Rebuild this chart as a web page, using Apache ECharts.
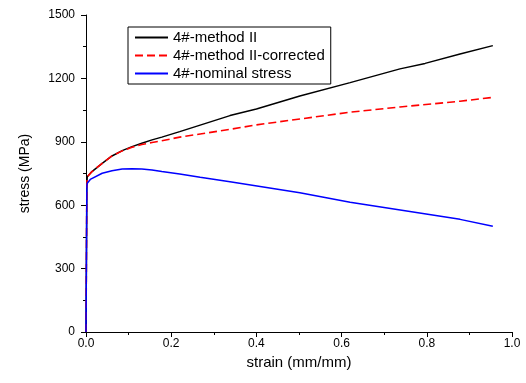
<!DOCTYPE html>
<html>
<head>
<meta charset="utf-8">
<script src="https://cdn.jsdelivr.net/npm/echarts@6/dist/echarts.min.js"></script>
<style>
  html, body { margin: 0; padding: 0; background: #fff; }
  #chart { width: 526px; height: 383px; }
</style>
</head>
<body>
<div id="chart"></div>
<script>
// strain (mm/mm), stress (MPa)
const methodII = [
  [0, 0], [0.002, 700], [0.003, 735], [0.014, 759], [0.038, 798], [0.061, 833],
  [0.085, 858], [0.108, 877], [0.131, 893], [0.155, 909], [0.178, 922],
  [0.22, 948], [0.268, 979], [0.338, 1024], [0.4, 1055], [0.502, 1117],
  [0.62, 1180], [0.737, 1245], [0.796, 1271], [0.878, 1315], [0.955, 1355]
];
const methodIICorrected = [
  [0, 0], [0.002, 700], [0.003, 735], [0.014, 759], [0.038, 798], [0.061, 833],
  [0.085, 857], [0.108, 874], [0.131, 887], [0.155, 897], [0.178, 905],
  [0.22, 922], [0.268, 937], [0.338, 959], [0.4, 980], [0.502, 1008],
  [0.62, 1040], [0.737, 1065], [0.878, 1092], [0.955, 1110]
];
const nominalStress = [
  [0, 0], [0.002, 690], [0.003, 704], [0.01, 722], [0.038, 751], [0.061, 763],
  [0.085, 771], [0.108, 772], [0.131, 771], [0.155, 767], [0.178, 759],
  [0.22, 748], [0.268, 732], [0.338, 711], [0.502, 659], [0.62, 614],
  [0.878, 533], [0.955, 500]
];
const seriesNames = ['4#-method II', '4#-method II-corrected', '4#-nominal stress'];

const font = 'Liberation Sans, Arial, sans-serif';
let myChart = echarts.init(document.getElementById('chart'));
myChart.setOption({
  animation: false,
  grid: { left: 86, right: 14, top: 15, bottom: 51 },
  legend: {
    orient: 'vertical',
    left: 128, top: 27,
    padding: [2, 6, 2, 6],
    itemGap: 1,
    itemWidth: 33,
    itemHeight: 14,
    borderColor: '#000', borderWidth: 1,
    itemStyle: { opacity: 0 },
    textStyle: { fontFamily: font, fontSize: 15, lineHeight: 17, color: '#000' },
    data: seriesNames
  },
  xAxis: {
    type: 'value', min: 0, max: 1, interval: 0.2,
    name: 'strain (mm/mm)', nameLocation: 'middle', nameGap: 22,
    nameTextStyle: { fontFamily: font, fontSize: 15, color: '#000' },
    axisLine: { lineStyle: { color: '#000', width: 1 } },
    axisTick: { length: 5, lineStyle: { color: '#000' } },
    minorTick: { show: true, splitNumber: 2, length: 3, lineStyle: { color: '#000' } },
    splitLine: { show: false },
    axisLabel: { fontFamily: font, fontSize: 12, color: '#000', margin: 6,
      formatter: v => v.toFixed(1) }
  },
  yAxis: {
    type: 'value', min: 0, max: 1500, interval: 300,
    name: 'stress (MPa)', nameLocation: 'middle', nameGap: 54,
    nameTextStyle: { fontFamily: font, fontSize: 14, color: '#000' },
    axisLine: { show: true, lineStyle: { color: '#000', width: 1 } },
    axisTick: { show: true, length: 5, lineStyle: { color: '#000' } },
    minorTick: { show: true, splitNumber: 2, length: 3, lineStyle: { color: '#000' } },
    splitLine: { show: false },
    axisLabel: { fontFamily: font, fontSize: 12, color: '#000', margin: 11,
      formatter: v => String(v) }
  },
  series: [
    { name: seriesNames[0], type: 'line', data: methodII, symbol: 'none',
      lineStyle: { color: '#000', width: 1.5 }, itemStyle: { color: '#000' } },
    { name: seriesNames[1], type: 'line', data: methodIICorrected, symbol: 'none',
      lineStyle: { color: '#ff0000', width: 1.6, type: [8, 4] }, itemStyle: { color: '#ff0000' } },
    { name: seriesNames[2], type: 'line', data: nominalStress, symbol: 'none',
      lineStyle: { color: '#0000ff', width: 1.5 }, itemStyle: { color: '#0000ff' } }
  ]
});
</script>
</body>
</html>
